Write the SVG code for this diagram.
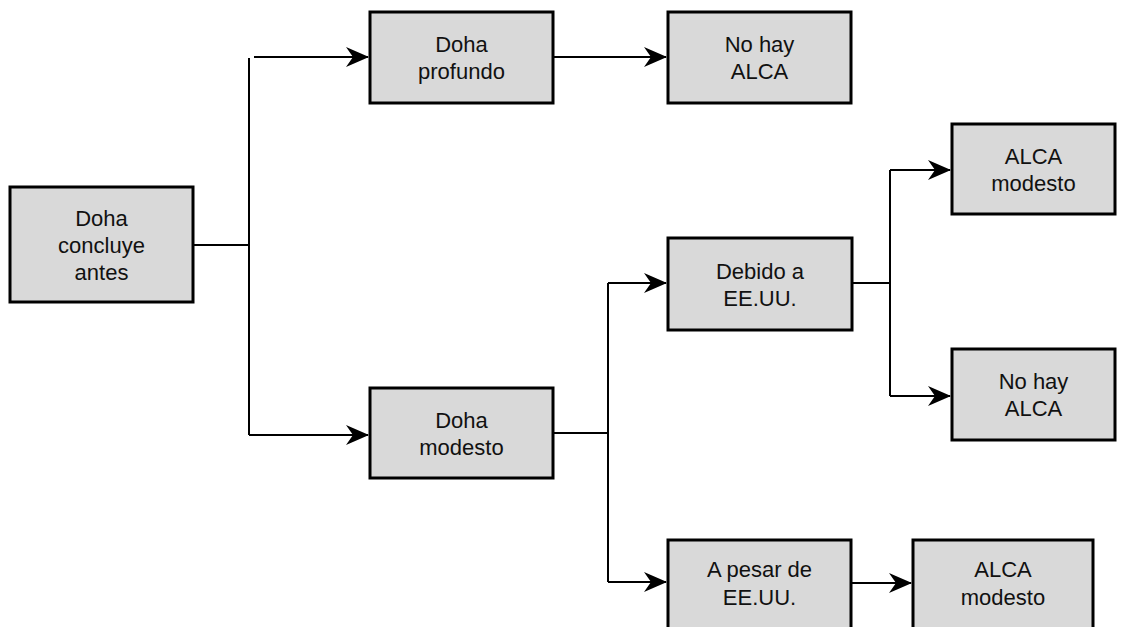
<svg xmlns="http://www.w3.org/2000/svg" width="1124" height="627" viewBox="0 0 1124 627">
<style>
.box{fill:#d9d9d9;stroke:#000;stroke-width:3}
.t{font-family:"Liberation Sans",Arial,sans-serif;font-size:22px;fill:#111;text-anchor:middle}
.c{fill:none;stroke:#000;stroke-width:2}
</style>
<defs>
<marker id="ah" markerUnits="userSpaceOnUse" markerWidth="24" markerHeight="20" refX="22" refY="10" orient="auto">
<path d="M0,0 L23,10 L0,20 L7,10 z" fill="#000"/>
</marker>
</defs>
<rect width="1124" height="627" fill="#fff"/>
<g id="connectors">
<path class="c" d="M193,245 H249"/>
<path class="c" d="M249,58 V435"/>
<path class="c" d="M254,57 H368" marker-end="url(#ah)"/>
<path class="c" d="M249,435 H368" marker-end="url(#ah)"/>
<path class="c" d="M553,57 H666" marker-end="url(#ah)"/>
<path class="c" d="M553,433 H608"/>
<path class="c" d="M608,283 V582"/>
<path class="c" d="M608,283 H666" marker-end="url(#ah)"/>
<path class="c" d="M608,582 H666" marker-end="url(#ah)"/>
<path class="c" d="M852,283 H890"/>
<path class="c" d="M890,170 V396"/>
<path class="c" d="M890,170 H950" marker-end="url(#ah)"/>
<path class="c" d="M890,396 H950" marker-end="url(#ah)"/>
<path class="c" d="M851,583 H911" marker-end="url(#ah)"/>
</g>
<g id="n1">
<rect class="box" x="10" y="187" width="183" height="115"/>
<text class="t" x="101.5" y="226">Doha</text>
<text class="t" x="101.5" y="253">concluye</text>
<text class="t" x="101.5" y="280">antes</text>
</g>
<g id="n2">
<rect class="box" x="370" y="12" width="183" height="91"/>
<text class="t" x="461.5" y="52">Doha</text>
<text class="t" x="461.5" y="79">profundo</text>
</g>
<g id="n3">
<rect class="box" x="668" y="12" width="183" height="91"/>
<text class="t" x="759.5" y="52">No hay</text>
<text class="t" x="759.5" y="79">ALCA</text>
</g>
<g id="n4">
<rect class="box" x="370" y="388" width="183" height="90"/>
<text class="t" x="461.5" y="427.5">Doha</text>
<text class="t" x="461.5" y="454.5">modesto</text>
</g>
<g id="n5">
<rect class="box" x="668" y="238" width="184" height="92"/>
<text class="t" x="760" y="278.5">Debido a</text>
<text class="t" x="760" y="305.5">EE.UU.</text>
</g>
<g id="n6">
<rect class="box" x="952" y="124" width="163" height="90"/>
<text class="t" x="1033.5" y="163.5">ALCA</text>
<text class="t" x="1033.5" y="190.5">modesto</text>
</g>
<g id="n7">
<rect class="box" x="952" y="349" width="163" height="91"/>
<text class="t" x="1033.5" y="389">No hay</text>
<text class="t" x="1033.5" y="416">ALCA</text>
</g>
<g id="n8">
<rect class="box" x="668" y="540" width="183" height="100"/>
<text class="t" x="759.5" y="577">A pesar de</text>
<text class="t" x="759.5" y="605">EE.UU.</text>
</g>
<g id="n9">
<rect class="box" x="913" y="540" width="180" height="100"/>
<text class="t" x="1003" y="577">ALCA</text>
<text class="t" x="1003" y="605">modesto</text>
</g>
</svg>
